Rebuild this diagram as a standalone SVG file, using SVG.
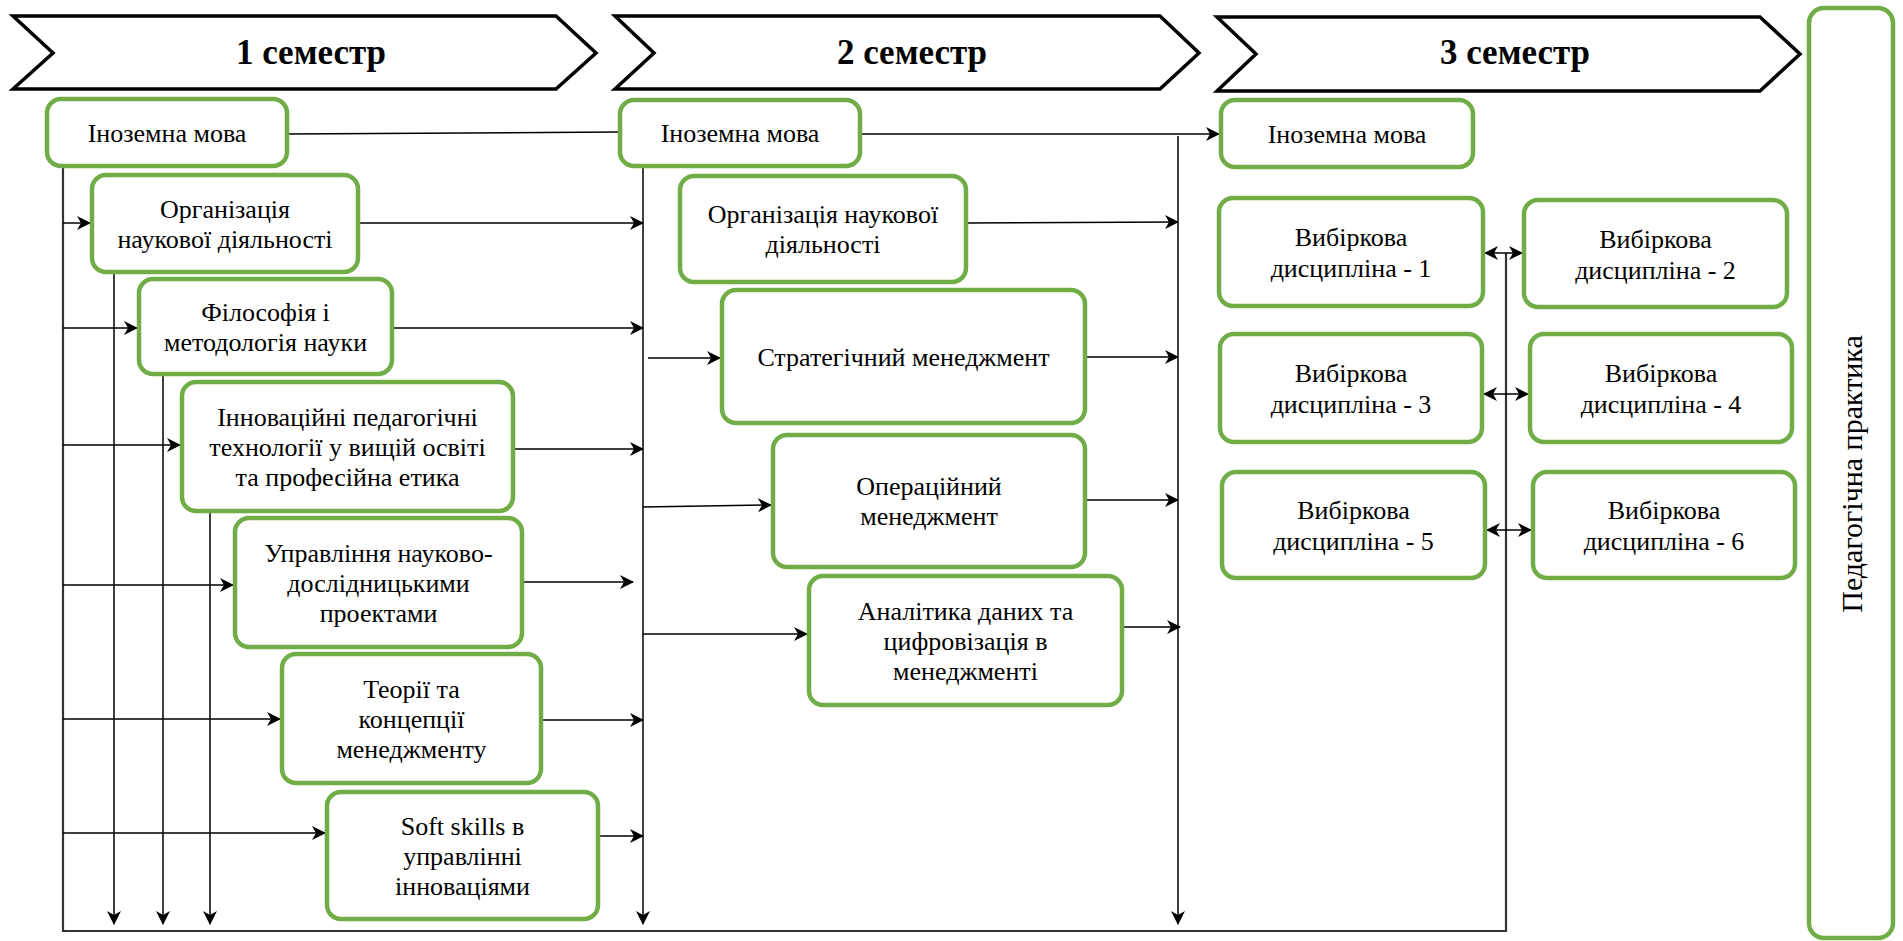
<svg xmlns="http://www.w3.org/2000/svg" width="1903" height="941" viewBox="0 0 1903 941">
<defs>
<marker id="ah" viewBox="0 0 14 14" refX="13" refY="7" markerWidth="14" markerHeight="14" markerUnits="userSpaceOnUse" orient="auto-start-reverse">
<path d="M0,0 L14,7 L0,14 L4,7 Z" fill="#000"/>
</marker>
<style>
.chev{fill:#fff;stroke:#000;stroke-width:3.5;stroke-linejoin:miter}
.sem{font-family:'Liberation Serif','DejaVu Serif','Times New Roman',serif;font-weight:bold;font-size:35px;text-anchor:middle;fill:#000}
.box{fill:#fff;stroke:#70AD47;stroke-width:4.5}
.t{font-family:'Liberation Serif','DejaVu Serif','Times New Roman',serif;font-size:26px;text-anchor:middle;fill:#000}
.c{fill:none;stroke:#000;stroke-width:1.5}
.a{fill:none;stroke:#000;stroke-width:1.5;marker-end:url(#ah)}
.d{fill:none;stroke:#000;stroke-width:1.5;marker-start:url(#ah);marker-end:url(#ah)}
.s{fill:none;stroke:#333;stroke-width:2.2}
</style>
</defs>
<rect width="1903" height="941" fill="#fff"/>

<g id="semester1"><polygon class="chev" points="13,16 556,16 596,53 556,89 13,89 53,53"/><text class="sem" x="311" y="64" font-family="Liberation Serif, serif">1 семестр</text></g>
<g id="semester2"><polygon class="chev" points="615,16 1160,16 1199,53 1160,89 615,89 654,53"/><text class="sem" x="912" y="64">2 семестр</text></g>
<g id="semester3"><polygon class="chev" points="1217,17 1760,17 1800,54 1760,91 1217,91 1256,54"/><text class="sem" x="1515" y="64">3 семестр</text></g>

<g id="connectors">
<path class="c" d="M287,134 L620,132"/>
<path class="s" d="M63,166 L63,931 L1506,931 L1506,253"/>
<path class="a" d="M63,223 L90,223"/>
<path class="a" d="M63,328 L137,328"/>
<path class="a" d="M63,445 L180,445"/>
<path class="a" d="M63,585 L233,585"/>
<path class="a" d="M63,719 L280,719"/>
<path class="a" d="M63,833 L325,833"/>
<path class="a" d="M114,272 L114,924"/>
<path class="a" d="M163,374 L163,924"/>
<path class="a" d="M210,511 L210,924"/>
<path class="a" d="M358,223 L643,223"/>
<path class="a" d="M392,328 L643,328"/>
<path class="a" d="M513,449 L643,449"/>
<path class="a" d="M522,582 L633,582"/>
<path class="a" d="M541,720 L643,720"/>
<path class="a" d="M598,836 L643,836"/>
<path class="a" d="M643,166 L643,924"/>
<path class="a" d="M648,358 L720,358"/>
<path class="a" d="M643,507 L771,505"/>
<path class="a" d="M643,634 L807,634"/>
<path class="a" d="M860,134 L1219,134"/>
<path class="a" d="M966,223 L1178,222"/>
<path class="a" d="M1085,357 L1178,357"/>
<path class="a" d="M1085,500 L1178,500"/>
<path class="a" d="M1122,627 L1180,627"/>
<path class="a" d="M1178,136 L1178,924"/>
<path class="d" d="M1485,253 L1522,253"/>
<path class="d" d="M1484,394 L1528,394"/>
<path class="d" d="M1487,530 L1531,530"/>
</g>

<g id="s1-foreign"><rect class="box" x="47" y="99" width="240" height="67" rx="14"/><text class="t" x="167" y="142">Іноземна мова</text></g>
<g id="s1-org"><rect class="box" x="92" y="175" width="266" height="97" rx="14"/><text class="t" x="225" y="217.5">Організація</text><text class="t" x="225" y="247.5">наукової діяльності</text></g>
<g id="s1-phil"><rect class="box" x="139" y="279" width="253" height="95" rx="14"/><text class="t" x="265.5" y="320.5">Філософія і</text><text class="t" x="265.5" y="350.5">методологія науки</text></g>
<g id="s1-innov"><rect class="box" x="182" y="382" width="331" height="129" rx="14"/><text class="t" x="347.5" y="425.5">Інноваційні педагогічні</text><text class="t" x="347.5" y="455.5">технології у вищій освіті</text><text class="t" x="347.5" y="485.5">та професійна етика</text></g>
<g id="s1-manage"><rect class="box" x="235" y="518" width="287" height="129" rx="14"/><text class="t" x="378.5" y="561.5">Управління науково-</text><text class="t" x="378.5" y="591.5">дослідницькими</text><text class="t" x="378.5" y="621.5">проектами</text></g>
<g id="s1-theory"><rect class="box" x="282" y="654" width="259" height="129" rx="14"/><text class="t" x="411.5" y="697.5">Теорії та</text><text class="t" x="411.5" y="727.5">концепції</text><text class="t" x="411.5" y="757.5">менеджменту</text></g>
<g id="s1-soft"><rect class="box" x="327" y="792" width="271" height="127" rx="14"/><text class="t" x="462.5" y="834.5">Soft skills в</text><text class="t" x="462.5" y="864.5">управлінні</text><text class="t" x="462.5" y="894.5">інноваціями</text></g>

<g id="s2-foreign"><rect class="box" x="620" y="100" width="240" height="66" rx="14"/><text class="t" x="740" y="142">Іноземна мова</text></g>
<g id="s2-org"><rect class="box" x="680" y="176" width="286" height="106" rx="14"/><text class="t" x="823" y="223">Організація наукової</text><text class="t" x="823" y="253">діяльності</text></g>
<g id="s2-strat"><rect class="box" x="722" y="290" width="363" height="133" rx="14"/><text class="t" x="903.5" y="365.5">Стратегічний менеджмент</text></g>
<g id="s2-oper"><rect class="box" x="773" y="435" width="312" height="132" rx="14"/><text class="t" x="929" y="495">Операційний</text><text class="t" x="929" y="525">менеджмент</text></g>
<g id="s2-analytics"><rect class="box" x="809" y="576" width="313" height="129" rx="14"/><text class="t" x="965.5" y="619.5">Аналітика даних та</text><text class="t" x="965.5" y="649.5">цифровізація в</text><text class="t" x="965.5" y="679.5">менеджменті</text></g>

<g id="s3-foreign"><rect class="box" x="1221" y="100" width="252" height="67" rx="14"/><text class="t" x="1347" y="142.5">Іноземна мова</text></g>
<g id="s3-v1"><rect class="box" x="1219" y="198" width="264" height="108" rx="14"/><text class="t" x="1351" y="246">Вибіркова</text><text class="t" x="1351" y="277">дисципліна - 1</text></g>
<g id="s3-v2"><rect class="box" x="1524" y="200" width="263" height="107" rx="14"/><text class="t" x="1655.5" y="247.5">Вибіркова</text><text class="t" x="1655.5" y="278.5">дисципліна - 2</text></g>
<g id="s3-v3"><rect class="box" x="1220" y="334" width="262" height="108" rx="14"/><text class="t" x="1351" y="382">Вибіркова</text><text class="t" x="1351" y="413">дисципліна - 3</text></g>
<g id="s3-v4"><rect class="box" x="1530" y="334" width="262" height="108" rx="14"/><text class="t" x="1661" y="382">Вибіркова</text><text class="t" x="1661" y="413">дисципліна - 4</text></g>
<g id="s3-v5"><rect class="box" x="1222" y="472" width="263" height="106" rx="14"/><text class="t" x="1353.5" y="519">Вибіркова</text><text class="t" x="1353.5" y="550">дисципліна - 5</text></g>
<g id="s3-v6"><rect class="box" x="1533" y="472" width="262" height="106" rx="14"/><text class="t" x="1664" y="519">Вибіркова</text><text class="t" x="1664" y="550">дисципліна - 6</text></g>

<g id="practice"><rect class="box" x="1809" y="8" width="84" height="930" rx="15"/><text class="t" style="font-size:30px" transform="translate(1852,474) rotate(-90)" x="0" y="10">Педагогічна практика</text></g>
</svg>
